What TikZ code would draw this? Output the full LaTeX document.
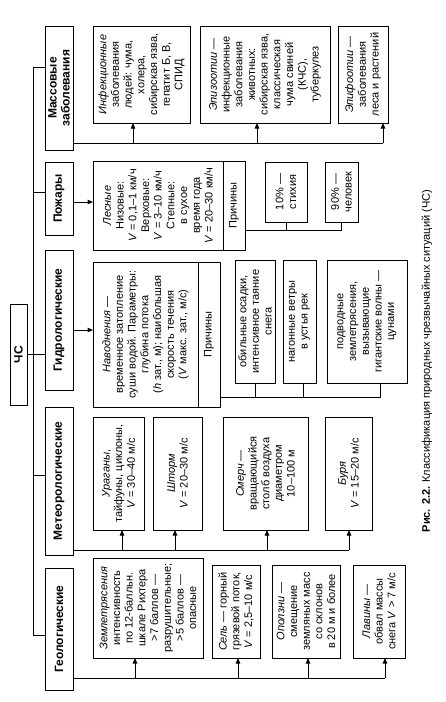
\documentclass[tikz,border=0pt]{standalone}
\usepackage{fontspec}
\setmainfont{Liberation Sans}
\usetikzlibrary{arrows.meta}
\begin{document}
\begin{tikzpicture}[x=1pt,y=-1pt,
  every node/.style={inner sep=0pt,outer sep=0pt},
  bx/.style={draw,line width=1pt,rotate=90,align=center,font=\fontsize{11}{12.7}\selectfont},
  catbox/.style={bx,font=\bfseries\fontsize{12}{13}\selectfont},
  conn/.style={line width=1pt},
  arr/.style={conn,-{Triangle[length=5.5pt,width=4.5pt]}}]
\fill[white] (0,0) rectangle (446,702);
\useasboundingbox (0,0) rectangle (446,702);

% root and categories
\node[catbox,minimum width=101pt,minimum height=17pt] (cs) at (18.5,354.5) {ЧС};
\node[catbox,minimum width=124pt,minimum height=28pt] (mass) at (59,88) {Массовые\\заболевания};
\node[catbox,minimum width=73pt,minimum height=28pt] (fire) at (59,198.5) {Пожары};
\node[catbox,minimum width=140pt,minimum height=28pt] (hydro) at (59,320) {Гидрологические};
\node[catbox,minimum width=148pt,minimum height=28pt] (meteo) at (59,481) {Метеорологические};
\node[catbox,minimum width=122pt,minimum height=28pt] (geo) at (59,629) {Геологические};

% mass diseases
\node[bx,minimum width=97pt,minimum height=97pt] (inf) at (141.5,74.5) {\textit{Инфекционные}\\заболевания\\людей: чума,\\холера,\\сибирская язва,\\гепатит Б, В,\\СПИД};
\node[bx,minimum width=97pt,minimum height=130pt] (epiz) at (265,74.5) {\textit{Эпизоотии} —\\инфекционные\\заболевания\\животных:\\сибирская язва,\\классическая\\чума свиней\\(КЧС),\\туберкулез};
\node[bx,minimum width=97pt,minimum height=50pt] (epif) at (363,74.5) {\textit{Эпифоотии} —\\заболевания\\леса и растений};

% fires
\node[bx,minimum width=89pt,minimum height=130pt] (forest) at (158,205.5) {\textit{Лесные}\\Низовые:\\\textit{V} = 0,1–1 км/ч\\Верховые:\\\textit{V} = 3–10 км/ч\\Степные:\\в сухое\\время года\\\textit{V} = 20–30 км/ч};
\node[bx,minimum width=89pt,minimum height=22pt] (fcause) at (234,205.5) {Причины};
\node[bx,minimum width=60pt,minimum height=42pt] (p10) at (286,192) {10\% —\\стихия};
\node[bx,minimum width=60pt,minimum height=33pt] (p90) at (341.5,192) {90\% —\\человек};

% hydro
\node[bx,minimum width=145pt,minimum height=105pt] (flood) at (145.5,334.5) {\textit{Наводнения} —\\временное затопление\\суши водой. Параметры:\\глубина потока\\(\textit{h} зат., м); наибольшая\\скорость течения\\(\textit{V} макс. зат., м/с)};
\node[bx,minimum width=145pt,minimum height=22pt] (hcause) at (209,334.5) {Причины};
\node[bx,minimum width=123pt,minimum height=40pt] (rain) at (255,321.5) {обильные осадки,\\интенсивное таяние\\снега};
\node[bx,minimum width=123pt,minimum height=33pt] (wind) at (299.5,321.5) {нагонные ветры\\в устья рек};
\node[bx,minimum width=123pt,minimum height=80pt] (tsun) at (367,321.5) {подводные\\землетрясения,\\вызывающие\\гигантские волны —\\цунами};

% meteo
\node[bx,minimum width=113pt,minimum height=51pt] (hur) at (118.5,473.5) {\textit{Ураганы},\\тайфуны, циклоны,\\\textit{V} = 30–40 м/с};
\node[bx,minimum width=113pt,minimum height=49pt] (storm) at (177.5,473.5) {\textit{Шторм}\\\textit{V} = 20–30 м/с};
\node[bx,minimum width=113pt,minimum height=85pt] (torn) at (265.5,473.5) {\textit{Смерч} —\\вращающийся\\столб воздуха\\диаметром\\10–100 м};
\node[bx,minimum width=113pt,minimum height=47pt] (gale) at (348.5,473.5) {\textit{Буря}\\\textit{V} = 15–20 м/с};

% geo
\node[bx,minimum width=100pt,minimum height=110pt] (quake) at (148,608) {\textit{Землетрясения}\\интенсивность\\по 12-балльн.\\шкале Рихтера\\>7 баллов —\\разрушительные;\\>5 баллов —\\опасные};
\node[bx,minimum width=93pt,minimum height=48pt] (mud) at (236,611.5) {\textit{Сель} — горный\\грязевой поток,\\\textit{V} = 2,5–10 м/с};
\node[bx,minimum width=93pt,minimum height=68pt] (slide) at (306,611.5) {\textit{Оползни} —\\смещение\\земляных масс\\со склонов\\в 20 м и более};
\node[bx,minimum width=93pt,minimum height=52pt] (aval) at (379,611.5) {\textit{Лавины} —\\обвал массы\\снега \textit{V} > 7 м/с};

% caption
\node[rotate=90,font=\fontsize{11}{13}\selectfont] (cap) at (427,361) {\textbf{Рис. 2.2.} Классификация природных чрезвычайных ситуаций (ЧС)};

% main bus
\coordinate (bT) at (33,67);
\coordinate (bB) at (33,635);
\coordinate (jF) at (33,192);
\coordinate (jM) at (33,475);
\draw[conn] (mass.north |- bT) -- (bT) -- (bB) -- (geo.north |- bB);
\draw[conn] (jF) -- (jF -| fire.north);
\draw[conn] (jM) -- (jM -| meteo.north);
\draw[conn] (cs.south) -- (cs.south -| hydro.north);

% mass branch
\coordinate (mE) at (383,143);
\coordinate (aI) at ([xshift=-8.5pt]inf.west);
\coordinate (aE) at ([xshift=-8pt]epiz.west);
\coordinate (aF) at ([xshift=20pt]epif.west);
\draw[conn] (mass.south |- mE) -- (mE);
\draw[arr] (aI |- mE) -- (aI);
\draw[arr] (aE |- mE) -- (aE);
\draw[arr] (aF |- mE) -- (aF);

% fire branch
\draw[arr] (fire.south |- 0,202) -- (forest.north |- 0,202);
\draw[conn] (fcause.south |- 0,230) -- (p90.west |- 0,230) -- (p90.west);
\draw[conn] (p10.west |- 0,230) -- (p10.west);

% hydro branch
\draw[arr] (hydro.south |- 0,330) -- (flood.north |- 0,330);
\coordinate (tW) at ([xshift=3.5pt]wind.west);
\coordinate (tT) at ([xshift=13pt]tsun.west);
\draw[conn] (hcause.south |- 0,397) -- (tT |- 0,397) -- (tT);
\draw[conn] (rain.west |- 0,397) -- (rain.west);
\draw[conn] (tW |- 0,397) -- (tW);

% meteo branch
\coordinate (meE) at (349,550);
\coordinate (aH) at ([xshift=3.5pt]hur.west);
\coordinate (aS) at ([xshift=-2.5pt]storm.west);
\coordinate (aT) at ([xshift=1.5pt]torn.west);
\coordinate (aG) at ([xshift=0.5pt]gale.west);
\draw[conn] (meteo.south |- meE) -- (meE);
\draw[arr] (aH |- meE) -- (aH);
\draw[arr] (aS |- meE) -- (aS);
\draw[arr] (aT |- meE) -- (aT);
\draw[arr] (aG |- meE) -- (aG);

% geo branch
\coordinate (gE) at (385,678);
\coordinate (aQ) at ([xshift=-13pt]quake.west);
\coordinate (aM) at ([xshift=2pt]mud.west);
\coordinate (aL) at ([xshift=2pt]slide.west);
\coordinate (aV) at ([xshift=6pt]aval.west);
\draw[conn] (geo.south |- gE) -- (gE);
\draw[arr] (aQ |- gE) -- (aQ);
\draw[arr] (aM |- gE) -- (aM);
\draw[arr] (aL |- gE) -- (aL);
\draw[arr] (aV |- gE) -- (aV);
\end{tikzpicture}
\end{document}
